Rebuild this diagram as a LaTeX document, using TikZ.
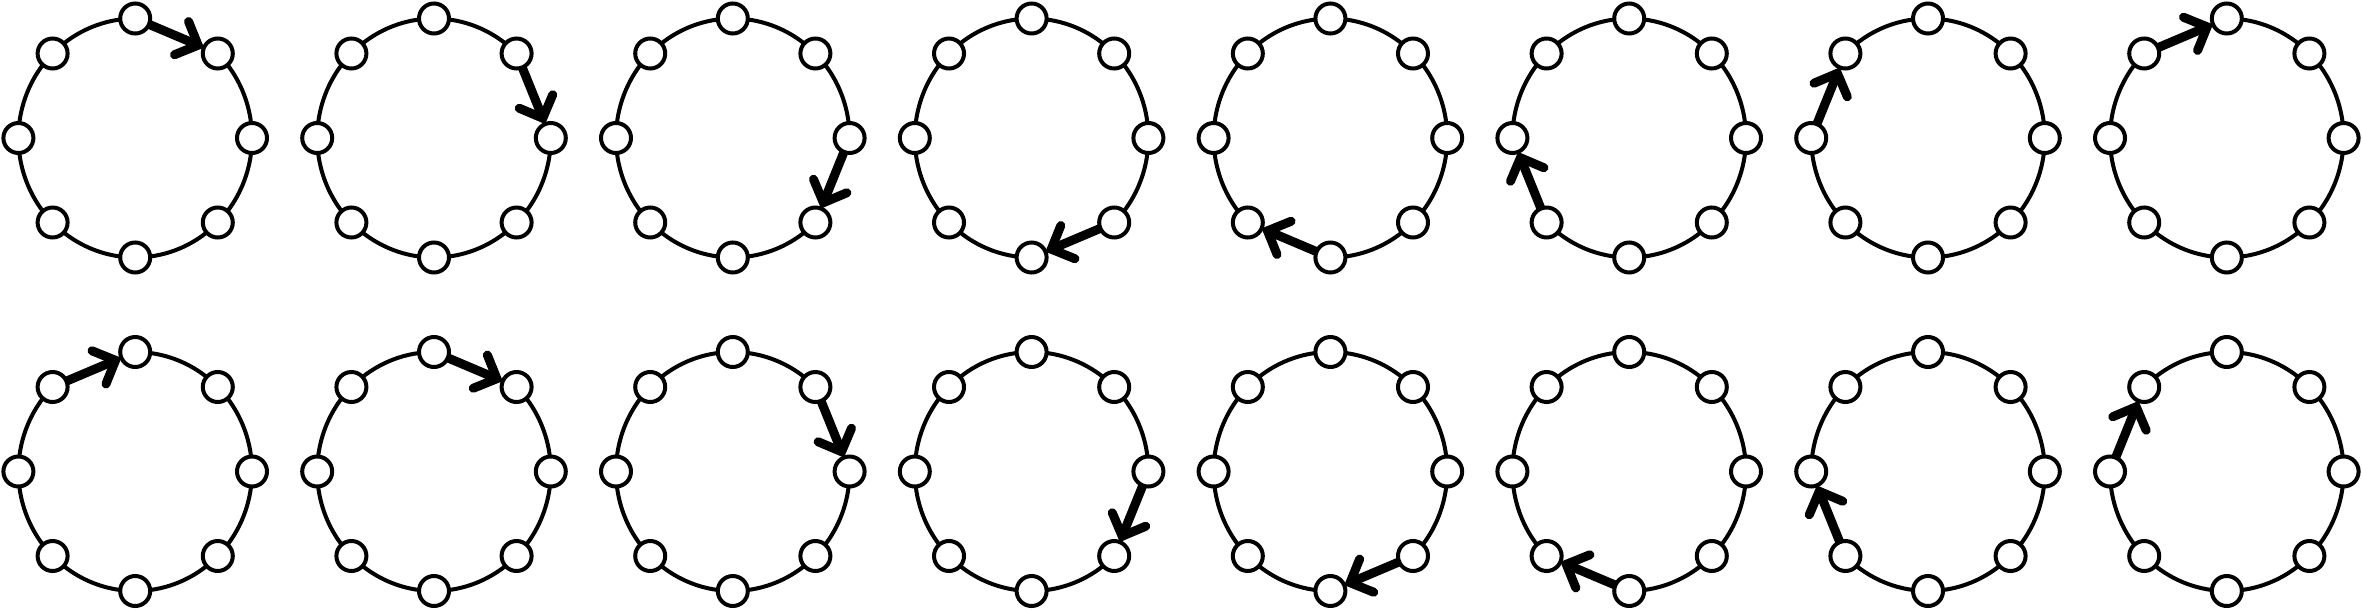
\documentclass[tikz,border=0pt]{standalone}
\usetikzlibrary{arrows.meta}
\begin{document}
\begin{tikzpicture}[x=1pt,y=-1pt,
  ring/.style={line width=4pt},
  vert/.style={circle, draw, fill=white, line width=4pt, minimum size=30pt, inner sep=0pt, outer sep=0pt},
  move/.style={line width=9pt, -{Straight Barb[length=18pt, width=36pt, line cap=round]}}]
\useasboundingbox (0,0) rectangle (2362,610);
\foreach \row/\cy in {0/138, 1/471.5} {
  \foreach \col in {0,...,7} {
    \pgfmathsetmacro{\cx}{135.2+298.8*\col}
    \pgfmathtruncatemacro{\act}{mod(\col+8-\row,8)}
    \foreach \k in {0,...,7} {
      \ifnum\k=\act\relax\else
        \pgfmathsetmacro{\angA}{90-45*\k}
        \pgfmathsetmacro{\angB}{45-45*\k}
        \draw[ring] plot[domain=\angA:\angB, samples=24, smooth] ({\cx+116.8*cos(\x)}, {\cy-119.5*sin(\x)});
      \fi
    }
    \foreach \k in {0,...,7} {
      \pgfmathsetmacro{\ang}{90-45*\k}
      \node[vert] (p-\row-\col-\k) at ({\cx+116.8*cos(\ang)}, {\cy-119.5*sin(\ang)}) {};
    }
  }
}
\foreach \col in {0,...,7} {
  \pgfmathtruncatemacro{\nxt}{mod(\col+1,8)}
  \pgfmathtruncatemacro{\prv}{mod(\col+7,8)}
  \draw[move] (p-0-\col-\col) -- (p-0-\col-\nxt);
  \draw[move] (p-1-\col-\prv) -- (p-1-\col-\col);
}
\end{tikzpicture}
\end{document}
